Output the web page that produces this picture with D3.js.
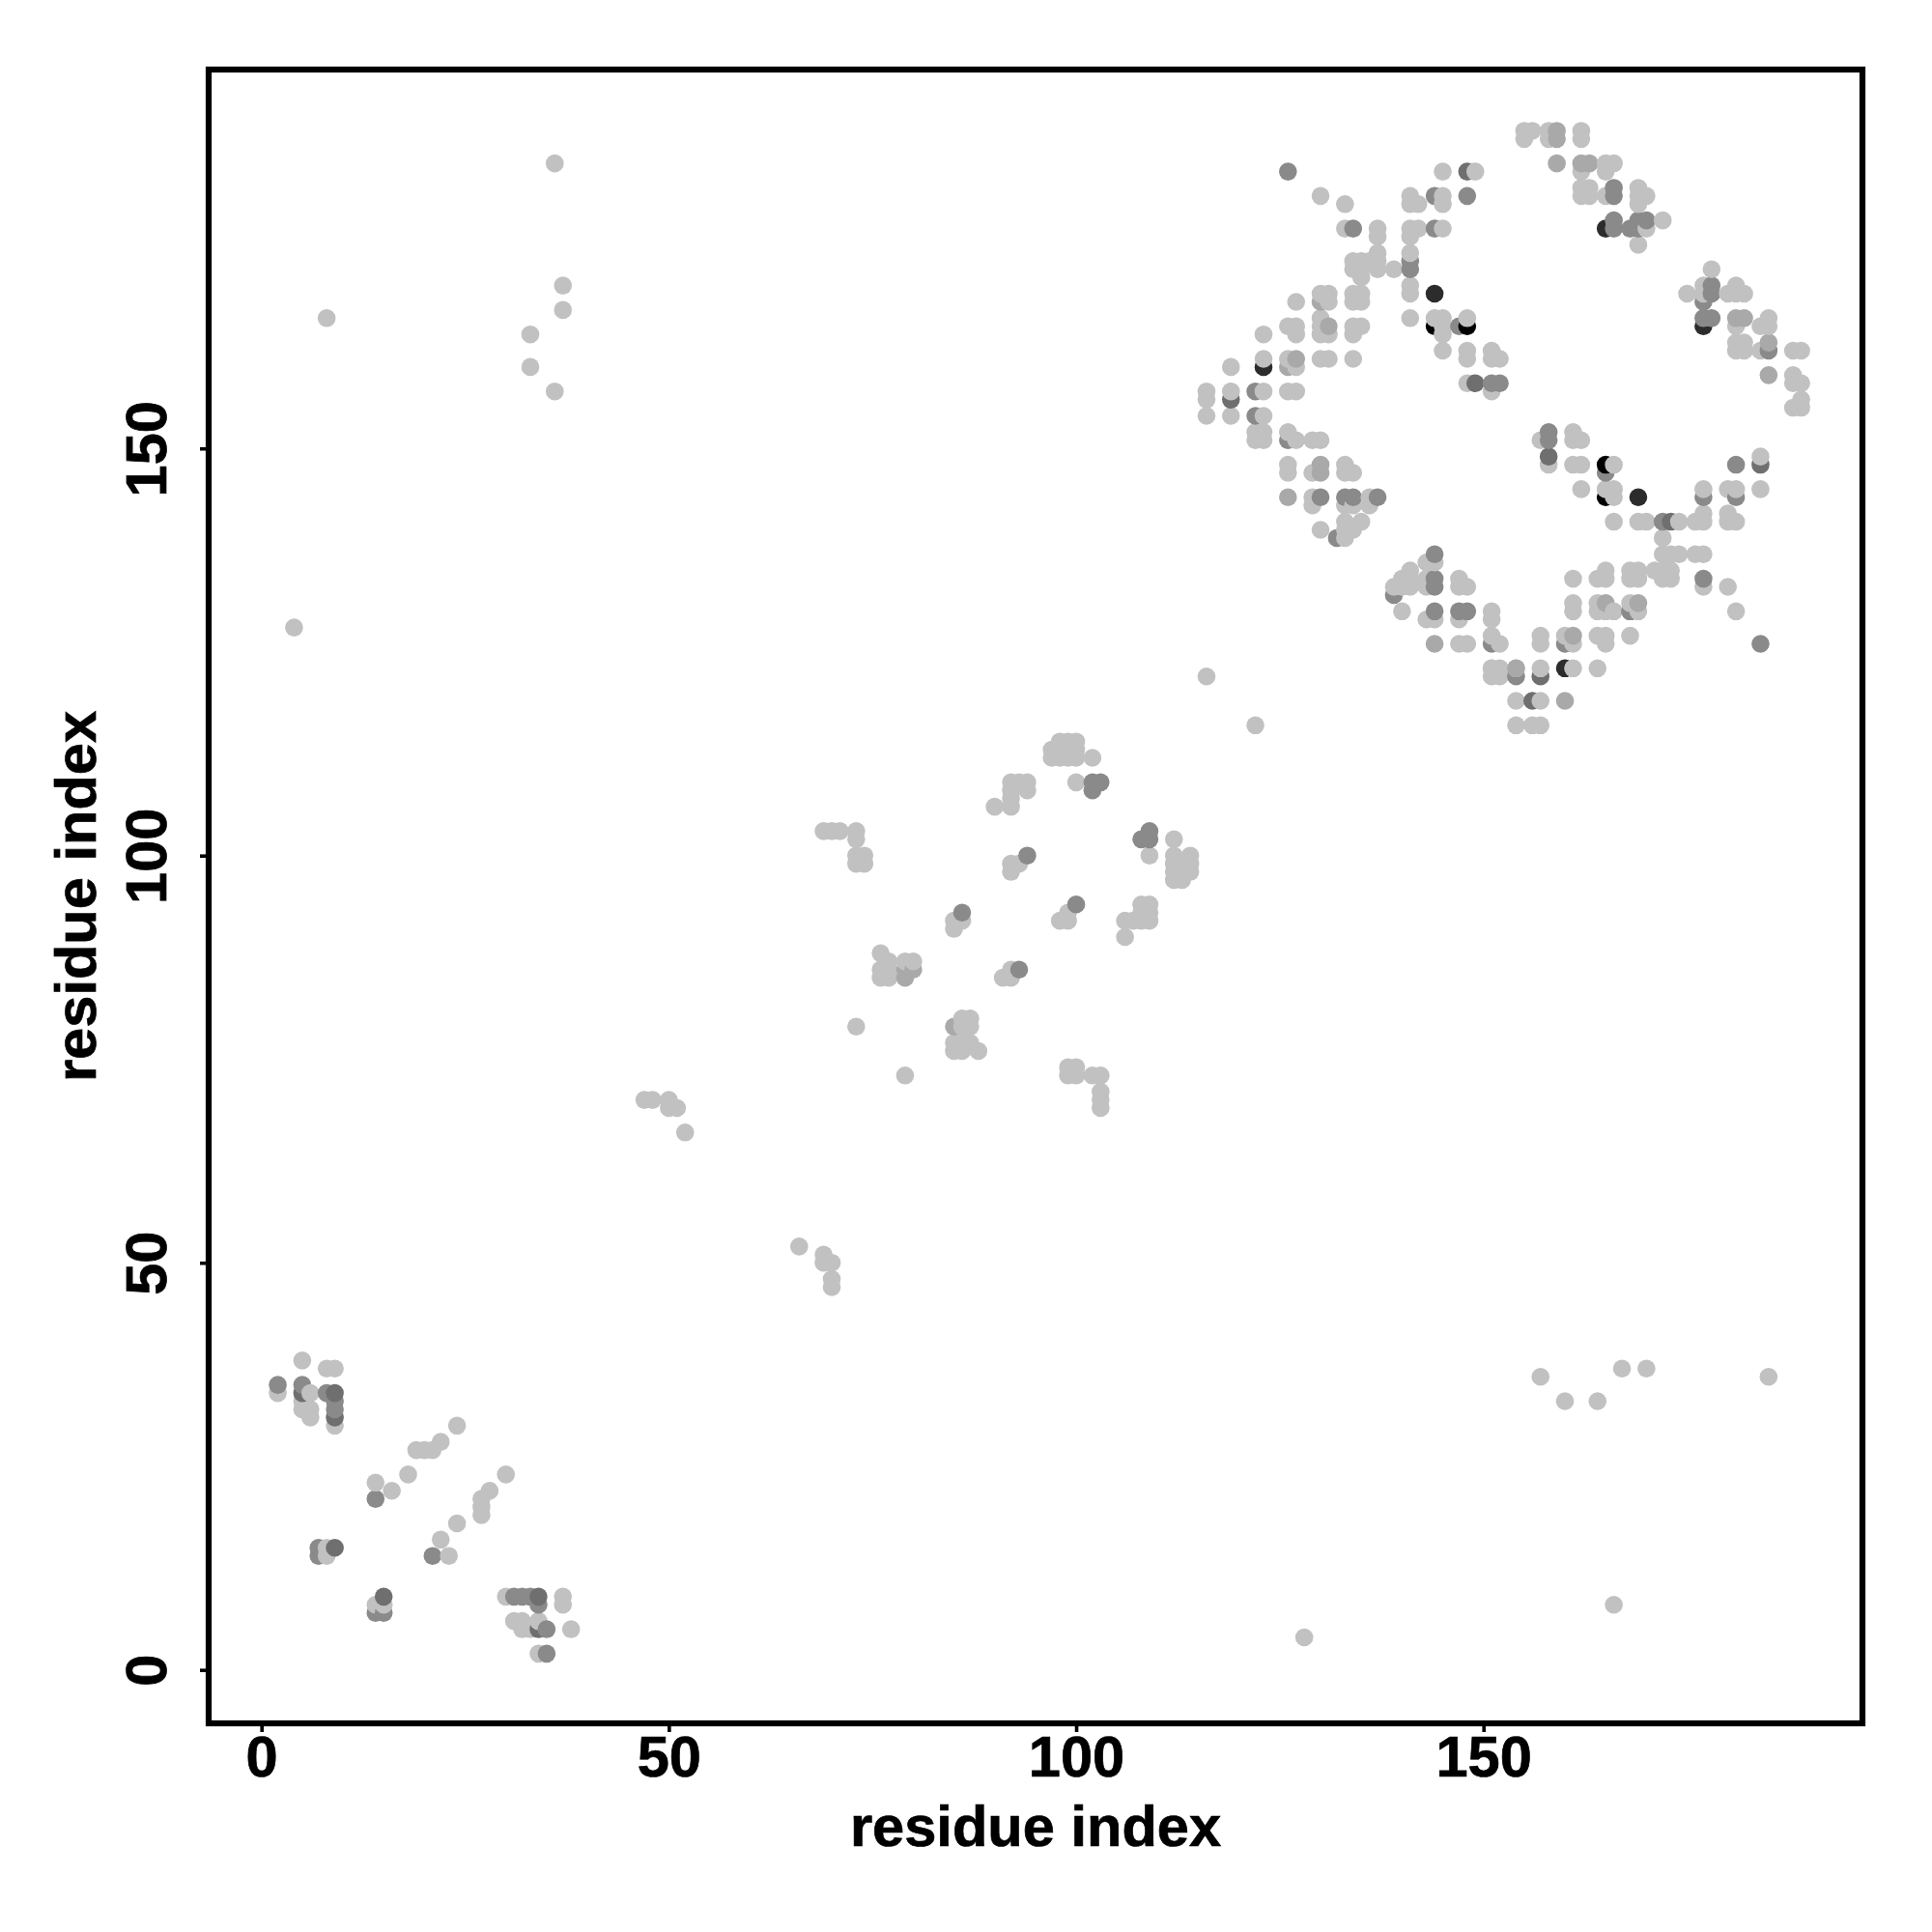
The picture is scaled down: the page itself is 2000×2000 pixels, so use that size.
<!DOCTYPE html>
<html><head><meta charset="utf-8">
<script src="https://cdn.jsdelivr.net/npm/d3@7"></script>
<style>html,body{margin:0;background:#fff}svg{display:block}</style>
</head><body><svg id="c" width="2000" height="2000"></svg>
<script>
const xTicks=[0,50,100,150], yTicks=[0,50,100,150];
const xLabel="residue index", yLabel="residue index";
const toneNames=["light","soft","mid","deep","dark","black"];
const toneColors=["#c1c1c1","#a9a9a9","#8a8a8a","#6f6f6f","#2c2c2c","#000000"];
const light=[[145,184],[149,184],[130,181],[133,180],[141,181],[141,180],[142,180],[145,181],[145,180],[133,177],[137,177],[137,176],[141,177],[142,177],[141,176],[145,177],[137,174],[134,173],[135,173],[134,172],[135,172],[135,171],[136,173],[137,173],[137,172],[139,172],[141,174],[141,170],[141,169],[130,169],[131,169],[131,168],[134,169],[135,169],[134,168],[135,168],[127,168],[126,165],[127,165],[127,164],[130,166],[130,165],[130,164],[131,164],[134,165],[135,165],[134,164],[123,164],[141,166],[144,166],[145,166],[145,165],[145,164],[148,166],[145,162],[148,162],[148,161],[151,162],[151,161],[152,161],[123,161],[126,161],[127,160],[130,161],[131,161],[134,161],[119,160],[116,157],[116,156],[116,154],[119,157],[119,154],[123,157],[126,157],[127,157],[123,154],[148,158],[151,157],[155,189],[156,189],[155,188],[158,189],[158,188],[162,189],[162,188],[162,184],[165,185],[166,185],[165,184],[162,182],[163,182],[162,181],[163,181],[165,181],[169,182],[169,181],[170,181],[169,180],[170,177],[172,178],[169,175],[178,172],[175,169],[177,170],[177,169],[180,169],[181,170],[181,169],[182,169],[181,165],[184,165],[185,166],[185,165],[181,163],[182,163],[181,162],[182,162],[184,162],[188,162],[189,162],[188,158],[189,158],[188,159],[189,156],[188,155],[189,155],[122,152],[123,152],[122,151],[123,151],[126,152],[127,151],[129,151],[130,151],[126,148],[126,147],[129,147],[133,148],[133,147],[134,147],[129,144],[129,143],[133,143],[134,143],[136,144],[136,143],[130,140],[135,141],[134,140],[133,141],[133,140],[133,139],[143,136],[144,136],[141,135],[140,134],[141,134],[139,133],[140,133],[141,133],[143,134],[143,133],[147,134],[147,133],[148,133],[151,130],[151,129],[151,127],[152,126],[140,130],[143,129],[144,129],[147,129],[147,126],[148,126],[151,123],[152,123],[151,122],[152,122],[116,122],[122,116],[157,151],[158,148],[161,152],[161,151],[162,151],[161,148],[162,148],[166,148],[162,145],[165,145],[166,145],[166,144],[166,141],[169,141],[170,141],[174,141],[176,141],[177,142],[177,141],[177,145],[180,145],[181,145],[184,145],[184,149],[180,142],[180,141],[181,141],[172,139],[172,137],[173,137],[174,137],[176,137],[177,137],[171,135],[172,135],[173,135],[172,134],[173,134],[177,133],[180,133],[181,130],[161,134],[164,134],[165,135],[165,134],[168,135],[169,135],[168,134],[169,134],[161,131],[161,130],[164,131],[164,130],[166,130],[165,130],[168,131],[169,130],[157,127],[157,126],[160,127],[161,126],[164,127],[165,127],[165,126],[168,127],[151,123],[154,123],[157,123],[161,123],[164,123],[154,119],[157,119],[154,116],[156,116],[157,116],[97,113],[97,112],[98,114],[99,114],[100,114],[98,113],[99,113],[100,113],[98,112],[99,112],[100,112],[102,112],[100,109],[92,109],[93,109],[94,109],[92,108],[94,108],[92,107],[92,106],[90,106],[69,103],[70,103],[71,103],[73,103],[73,102],[73,100],[74,100],[73,99],[74,99],[109,100],[112,102],[112,100],[114,100],[112,99],[113,99],[114,99],[112,98],[113,98],[114,98],[112,97],[113,97],[93,99],[92,99],[92,98],[99,93],[99,92],[98,92],[86,92],[85,92],[85,91],[108,94],[109,94],[108,93],[109,93],[106,92],[107,92],[108,92],[109,92],[106,90],[76,88],[77,87],[76,86],[77,86],[76,85],[77,85],[79,87],[80,87],[92,86],[92,85],[91,85],[73,79],[86,80],[87,80],[86,79],[87,79],[85,77],[86,77],[87,77],[85,76],[86,76],[88,76],[79,73],[99,74],[100,74],[99,73],[100,73],[102,73],[103,73],[103,71],[103,70],[103,69],[47,70],[48,70],[50,70],[50,69],[51,69],[52,66],[66,52],[69,51],[69,50],[70,50],[70,48],[70,47],[36,185],[37,170],[37,167],[33,164],[33,160],[36,157],[8,166],[4,128],[128,4],[166,8],[157,36],[160,33],[164,33],[167,37],[170,37],[185,36],[5,38],[8,37],[9,37],[2,34],[6,34],[9,30],[5,33],[5,32],[6,32],[6,31],[24,30],[22,28],[19,27],[20,27],[21,27],[18,24],[14,23],[16,22],[30,24],[28,22],[27,21],[27,20],[27,19],[24,18],[22,16],[23,14],[8,15],[8,14],[14,8],[15,8],[30,9],[37,9],[37,8],[31,6],[32,6],[34,6],[32,5],[33,5],[38,5],[34,2]];
const soft=[[127,161],[131,165],[163,185],[159,189],[159,188],[159,185],[185,163],[160,119],[161,127],[185,159],[144,126],[130,168],[130,148],[130,147],[126,144],[126,160],[79,85],[79,86],[80,86],[85,79],[165,131],[169,131],[168,130],[181,166],[182,166],[162,185],[154,123]];
const mid=[[126,184],[144,181],[148,181],[134,177],[144,177],[141,173],[141,172],[147,165],[122,154],[122,157],[151,158],[152,158],[166,182],[166,181],[166,178],[166,177],[168,177],[169,178],[169,177],[170,178],[178,170],[178,169],[177,168],[177,166],[178,166],[185,162],[126,151],[151,126],[130,144],[133,144],[134,144],[137,144],[132,139],[144,137],[144,134],[144,133],[139,132],[144,130],[147,130],[148,130],[158,152],[158,151],[165,147],[172,141],[177,144],[181,144],[181,148],[177,134],[160,126],[168,130],[184,126],[154,122],[102,109],[103,109],[102,108],[109,103],[108,102],[109,102],[94,100],[100,94],[86,93],[93,86],[2,35],[5,35],[8,34],[9,33],[9,32],[14,21],[21,14],[7,15],[7,14],[14,7],[15,7],[31,9],[32,9],[33,9],[34,8],[35,5],[35,2]];
const deep=[[148,184],[119,156],[149,158],[173,141],[158,149],[184,148],[157,122],[156,119],[5,34],[9,34],[9,31],[9,15],[15,9],[34,9],[34,5]];
const dark=[[144,169],[123,160],[165,177],[177,165],[169,144],[160,123]];
const black=[[144,165],[148,165],[165,148],[165,144]];
const groups=[light,soft,mid,deep,dark,black];

const W=2000,H=2000,frame={l:216,r:1928,t:72,b:1784};
const x=d3.scaleLinear().domain([0,150]).range([270.7,1535.7]);
const y=d3.scaleLinear().domain([0,150]).range([1728.7,464.2]);
const tone=d3.scaleOrdinal().domain(toneNames).range(toneColors);
const svg=d3.select("#c");
svg.append("rect").attr("width",W).attr("height",H).attr("fill","#fff");

const points=groups.flatMap((g,i)=>g.map(p=>({x:p[0],y:p[1],tone:toneNames[i]})));
points.sort((a,b)=>d3.ascending(a.x,b.x)||d3.ascending(a.y,b.y));
svg.append("g").selectAll("circle").data(points).join("circle")
  .attr("cx",d=>x(d.x)).attr("cy",d=>y(d.y)).attr("r",9.3).attr("fill",d=>tone(d.tone));

const font='"Liberation Sans",Arial,sans-serif';
const fs=59.6, heft=0.7;
const gx=svg.append("g").attr("transform",`translate(0,${frame.b})`)
  .call(d3.axisBottom(x).tickValues(xTicks).tickSize(9).tickPadding(13).tickFormat(d3.format("d")));
const gy=svg.append("g").attr("transform",`translate(${frame.l},0)`)
  .call(d3.axisLeft(y).tickValues(yTicks).tickSize(9).tickPadding(0).tickFormat(d3.format("d")));
gx.select(".domain").remove(); gy.select(".domain").remove();
svg.selectAll(".tick line").attr("stroke","#000").attr("stroke-width",3.6);
svg.selectAll(".tick text").attr("font-family",font).attr("font-weight","bold").attr("font-size",fs).attr("fill","#000").attr("stroke","#000").attr("stroke-width",heft);
gx.selectAll("text").attr("dy",null).attr("y",null).attr("text-anchor","middle")
  .attr("transform","translate(0,55)");
gy.selectAll("text").attr("x",null).attr("dy",null).attr("text-anchor","middle")
  .attr("transform",`translate(-44.3,0) rotate(-90)`);

svg.append("rect").attr("x",frame.l).attr("y",frame.t).attr("width",frame.r-frame.l).attr("height",frame.b-frame.t)
  .attr("fill","none").attr("stroke","#000").attr("stroke-width",6.2);

svg.append("text").attr("x",(frame.l+frame.r)/2).attr("y",1910.7).attr("text-anchor","middle")
  .attr("font-family",font).attr("font-weight","bold").attr("font-size",fs).attr("stroke","#000").attr("stroke-width",heft).text(xLabel);
svg.append("text").attr("transform",`translate(98.5,${(frame.t+frame.b)/2}) rotate(-90)`).attr("text-anchor","middle")
  .attr("font-family",font).attr("font-weight","bold").attr("font-size",fs).attr("stroke","#000").attr("stroke-width",heft).text(yLabel);
</script></body></html>
